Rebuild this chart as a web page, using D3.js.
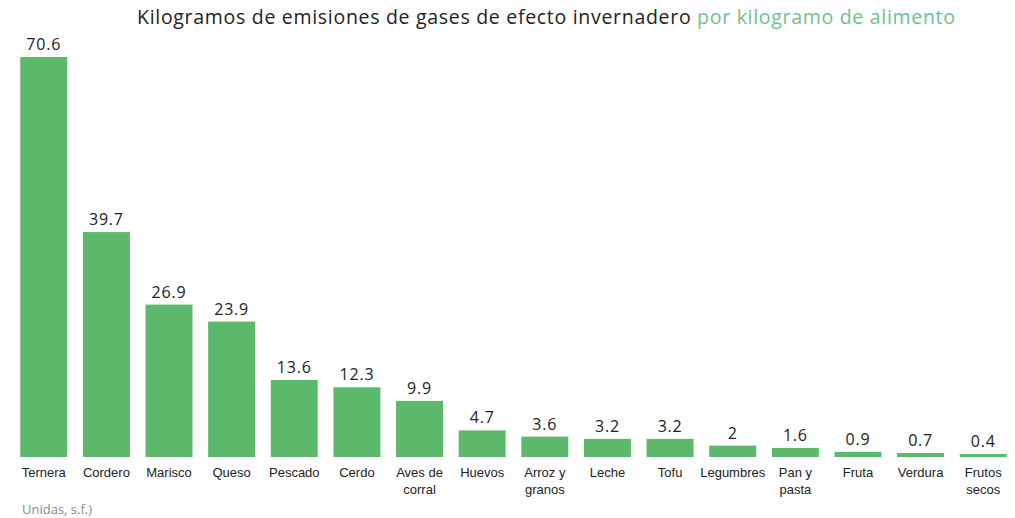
<!DOCTYPE html>
<html><head><meta charset="utf-8">
<script src="https://cdn.jsdelivr.net/npm/d3@7/dist/d3.min.js"></script>
<style>body{margin:0;background:#fff}svg{display:block;font-family:"Open Sans","Noto Sans",sans-serif}</style>
</head><body><svg id="c" width="1015" height="518"></svg>
<script>
const categories = ["Ternera","Cordero","Marisco","Queso","Pescado","Cerdo","Aves de|corral","Huevos","Arroz y|granos","Leche","Tofu","Legumbres","Pan y|pasta","Fruta","Verdura","Frutos|secos"];
const values = [70.6,39.7,26.9,23.9,13.6,12.3,9.9,4.7,3.6,3.2,3.2,2,1.6,0.9,0.7,0.4];
const valueLabels = ["70.6","39.7","26.9","23.9","13.6","12.3","9.9","4.7","3.6","3.2","3.2","2","1.6","0.9","0.7","0.4"];

const svg = d3.select("#c");
const x = d3.scaleBand().domain(categories).range([14, 1013]).paddingInner(0.25).paddingOuter(0.1);
const y = d3.scaleLinear().domain([0, 70.6]).range([457, 57]);

svg.append("text").attr("x",137).attr("y",24).attr("font-size",19.5).attr("fill","#222")
  .attr("textLength",818).attr("lengthAdjust","spacing")
  .text("Kilogramos de emisiones de gases de efecto invernadero ")
  .append("tspan").attr("fill","#6cc38a").text("por kilogramo de alimento");

svg.selectAll("rect.bar").data(values).join("rect").attr("class","bar")
  .attr("x",(d,i)=>x(categories[i])).attr("width",x.bandwidth())
  .attr("y",d=>Math.min(y(d), y(0)-3)).attr("height",d=>Math.max(y(0)-y(d),3))
  .attr("fill","#5cb96b");

svg.selectAll("text.val").data(values).join("text").attr("class","val")
  .attr("x",(d,i)=>x(categories[i])+x.bandwidth()/2).attr("y",d=>Math.min(y(d),y(0)-3)-7)
  .attr("text-anchor","middle").attr("font-size",16).attr("letter-spacing",0.8).attr("fill","#222")
  .text((d,i)=>valueLabels[i]);

const xa = svg.append("g").attr("transform","translate(0,457)").call(d3.axisBottom(x).tickSize(0).tickFormat(""));
xa.select(".domain").remove();
xa.selectAll(".tick").each(function(d){
  const t = d3.select(this).append("text").attr("text-anchor","middle").attr("font-size",13).attr("fill","#222");
  d.split("|").forEach((s,j)=>t.append("tspan").attr("x",0).attr("y",20+j*17).text(s));
});

svg.append("text").attr("x",22).attr("y",514).attr("font-size",13).attr("fill","#8a8a8a").text("Unidas, s.f.)");
</script></body></html>
